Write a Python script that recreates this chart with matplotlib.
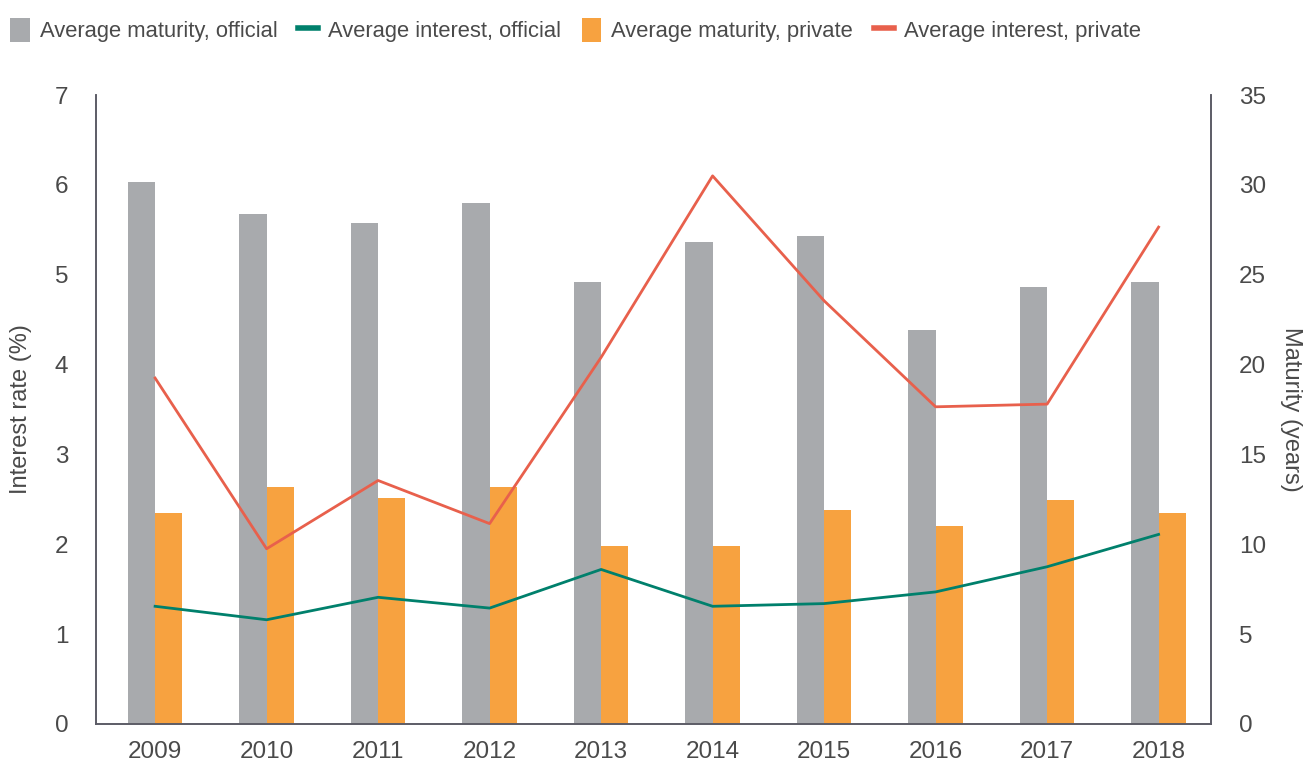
import matplotlib
matplotlib.use("Agg")
import matplotlib.pyplot as plt
from matplotlib.patches import Patch
from matplotlib.lines import Line2D
import numpy as np

years = ["2009", "2010", "2011", "2012", "2013", "2014", "2015", "2016", "2017", "2018"]
maturity_official = [30.15, 28.4, 27.9, 29.0, 24.6, 26.8, 27.15, 21.95, 24.3, 24.6]
maturity_private = [11.75, 13.2, 12.6, 13.2, 9.9, 9.9, 11.9, 11.0, 12.45, 11.75]
interest_official = [1.31, 1.16, 1.41, 1.29, 1.72, 1.31, 1.34, 1.47, 1.75, 2.11]
interest_private = [3.85, 1.95, 2.71, 2.23, 4.08, 6.10, 4.71, 3.53, 3.56, 5.53]

plt.rcParams["font.family"] = ["Liberation Sans", "DejaVu Sans"]

C_GRAY = "#A8AAAD"
C_ORANGE = "#F7A240"
C_GREEN = "#00806C"
C_RED = "#E8604C"
C_TEXT = "#4A4A4A"
C_AXIS = "#5C5C66"

fig = plt.figure(figsize=(13.06, 7.63), dpi=100)
ax = fig.add_axes([96/1306, 1 - 724/763, (1211-96)/1306, (724-95)/763])
ax2 = ax.twinx()

x = np.arange(len(years))
w = 0.245
ax2.bar(x - w/2, maturity_official, width=w, color=C_GRAY, linewidth=0)
ax2.bar(x + w/2, maturity_private, width=w, color=C_ORANGE, linewidth=0)
ax.plot(x, interest_official, color=C_GREEN, lw=2.0)
ax.plot(x, interest_private, color=C_RED, lw=2.0)

ax.set_zorder(ax2.get_zorder() + 1)
ax.patch.set_visible(False)

ax.set_xlim(-0.53, 9.47)
ax.set_ylim(0, 7)
ax2.set_ylim(0, 35)
ax.set_yticks(range(0, 8))
ax2.set_yticks(range(0, 36, 5))
ax.set_xticks(x)
ax.set_xticklabels(years)

for a in (ax, ax2):
    a.spines["top"].set_visible(False)
    for s in ("left", "right", "bottom"):
        a.spines[s].set_color(C_AXIS)
        a.spines[s].set_linewidth(1.2)
    a.tick_params(length=0, labelsize=17.5, colors=C_TEXT)
ax.tick_params(axis="y", pad=20)
ax2.tick_params(axis="y", pad=20)
ax.tick_params(axis="x", pad=12)

ax.set_ylabel("Interest rate (%)", fontsize=17, color=C_TEXT, labelpad=16)
ax2.set_ylabel("Maturity (years)", fontsize=17, color=C_TEXT, rotation=270, labelpad=26)

handles = [
    Patch(facecolor=C_GRAY, edgecolor="none"),
    Line2D([0], [0], color=C_GREEN, lw=4.0),
    Patch(facecolor=C_ORANGE, edgecolor="none"),
    Line2D([0], [0], color=C_RED, lw=4.0),
]
labels = ["Average maturity, official", "Average interest, official",
          "Average maturity, private", "Average interest, private"]
leg = fig.legend(handles, labels, loc="center left", bbox_to_anchor=(10/1306, 1 - 30/763),
                 ncol=4, frameon=False, fontsize=15.8, handlelength=0.9, handleheight=1.3,
                 handletextpad=0.45, columnspacing=0.95, borderaxespad=0, borderpad=0)
for t in leg.get_texts():
    t.set_color(C_TEXT)

fig.savefig("out.png", dpi=100)
